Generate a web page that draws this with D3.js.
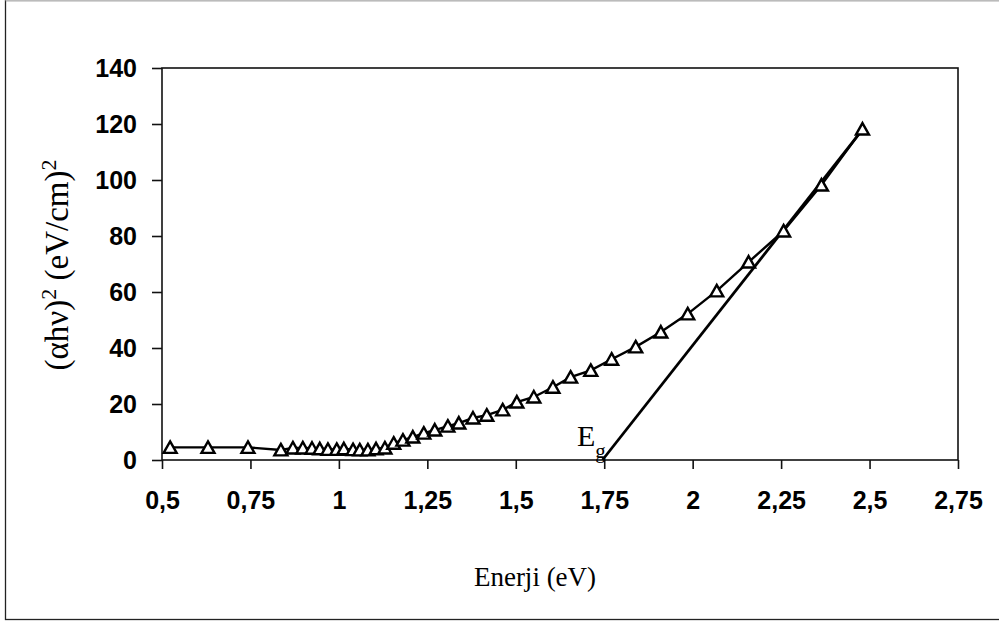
<!DOCTYPE html>
<html>
<head>
<meta charset="utf-8">
<script src="https://cdn.jsdelivr.net/npm/d3@7/dist/d3.min.js"></script>
<style>
  html, body { margin: 0; padding: 0; background: #fff; }
  svg { display: block; }
</style>
</head>
<body>
<svg id="chart" width="999" height="626"></svg>
<script>
// Photon energy (eV) and (alpha h nu)^2 values
const energy = [0.523, 0.630, 0.743, 0.836, 0.870, 0.898, 0.924, 0.946, 0.969, 0.994,
                1.014, 1.040, 1.059, 1.082, 1.105, 1.130, 1.155, 1.181, 1.209, 1.240,
                1.271, 1.308, 1.339, 1.379, 1.418, 1.463, 1.503, 1.551, 1.605, 1.655,
                1.712, 1.771, 1.839, 1.910, 1.986, 2.068, 2.158, 2.257, 2.364, 2.480];
const absorption = [4.5, 4.5, 4.5, 3.6, 4.3, 4.3, 4.2, 4.0, 3.8, 3.8,
                    4.0, 3.7, 3.6, 3.6, 4.0, 4.3, 6.0, 7.1, 8.2, 9.6,
                    10.7, 12.1, 13.2, 15.0, 16.0, 17.9, 20.7, 22.5, 26.0, 29.6,
                    32.0, 36.0, 40.4, 45.7, 52.2, 60.4, 70.7, 81.8, 98.2, 118.2];

// Linear extrapolation of the absorption edge down to the energy axis
const fitEnergy = [1.745, 2.48];
const fitValue = [0, 118];

// Axis ticks
const xTicks = [0.5, 0.75, 1, 1.25, 1.5, 1.75, 2, 2.25, 2.5, 2.75];
const yTicks = [0, 20, 40, 60, 80, 100, 120, 140];

const svg = d3.select("#chart");

// Outer chart frame
svg.append("rect")
  .attr("x", 5.5).attr("y", 0.5)
  .attr("width", 1010).attr("height", 619)
  .attr("fill", "none").attr("stroke", "#222").attr("stroke-width", 1.3);
svg.append("line")
  .attr("x1", 5.5).attr("x2", 999).attr("y1", 0.5).attr("y2", 0.5)
  .attr("stroke", "#bbb").attr("stroke-width", 1.5);

const plot = { left: 162, right: 958, top: 68, bottom: 460 };

const x = d3.scaleLinear().domain([0.5, 2.75]).range([plot.left, plot.right]);
const y = d3.scaleLinear().domain([0, 140]).range([plot.bottom, plot.top]);

const comma = d => String(d).replace(".", ",");

// Plot area border
svg.append("rect")
  .attr("x", plot.left).attr("y", plot.top)
  .attr("width", plot.right - plot.left).attr("height", plot.bottom - plot.top)
  .attr("fill", "none").attr("stroke", "#111").attr("stroke-width", 1.6);

// X axis
const xAxis = svg.append("g")
  .attr("transform", `translate(0,${plot.bottom})`)
  .call(d3.axisBottom(x).tickValues(xTicks).tickFormat(comma).tickSize(9).tickPadding(22));
xAxis.select(".domain").remove();
xAxis.selectAll("line").attr("stroke", "#111").attr("stroke-width", 1.6);
xAxis.selectAll("text")
  .attr("font-family", "Liberation Sans, Arial, sans-serif")
  .attr("font-weight", "bold").attr("font-size", 25).attr("fill", "#000");

// Y axis
const yAxis = svg.append("g")
  .attr("transform", `translate(${plot.left},0)`)
  .call(d3.axisLeft(y).tickValues(yTicks).tickSize(10).tickPadding(15));
yAxis.select(".domain").remove();
yAxis.selectAll("line").attr("stroke", "#111").attr("stroke-width", 1.6);
yAxis.selectAll("text")
  .attr("font-family", "Liberation Sans, Arial, sans-serif")
  .attr("font-weight", "bold").attr("font-size", 25).attr("fill", "#000");

// Axis titles
svg.append("text")
  .attr("x", 535).attr("y", 586)
  .attr("text-anchor", "middle")
  .attr("font-family", "Liberation Serif, Times New Roman, serif")
  .attr("font-size", 27).attr("fill", "#000")
  .text("Enerji (eV)");

const yTitle = svg.append("text")
  .attr("transform", "translate(68,265) rotate(-90)")
  .attr("text-anchor", "middle")
  .attr("font-family", "Liberation Serif, Times New Roman, serif")
  .attr("font-size", 33).attr("fill", "#000");
yTitle.append("tspan").text("(\u03B1h\u03BD)");
yTitle.append("tspan").attr("baseline-shift", "super").attr("font-size", 22).text("2");
yTitle.append("tspan").text(" (eV/cm)");
yTitle.append("tspan").attr("baseline-shift", "super").attr("font-size", 22).text("2");

// Extrapolated straight line
const fitData = fitEnergy.map((e, i) => ({ e, v: fitValue[i] }));
svg.append("path")
  .datum(fitData)
  .attr("fill", "none").attr("stroke", "#000").attr("stroke-width", 2.8)
  .attr("d", d3.line().x(d => x(d.e)).y(d => y(d.v)));

// Measured series
const data = energy.map((e, i) => ({ e, v: absorption[i] }));
svg.append("path")
  .datum(data)
  .attr("fill", "none").attr("stroke", "#000").attr("stroke-width", 2.4)
  .attr("d", d3.line().x(d => x(d.e)).y(d => y(d.v)));

const tri = "M0,-6L6.5,5.5L-6.5,5.5Z";
svg.append("g").selectAll("path")
  .data(data)
  .join("path")
  .attr("transform", d => `translate(${x(d.e)},${y(d.v)})`)
  .attr("d", tri)
  .attr("fill", "#fff").attr("stroke", "#000").attr("stroke-width", 2.4);

// Band-gap label
const eg = svg.append("text")
  .attr("x", 577).attr("y", 446)
  .attr("font-family", "Liberation Serif, Times New Roman, serif")
  .attr("font-size", 30).attr("fill", "#000");
eg.append("tspan").text("E");
eg.append("tspan").attr("baseline-shift", "sub").attr("font-size", 21).text("g");
</script>
</body>
</html>
